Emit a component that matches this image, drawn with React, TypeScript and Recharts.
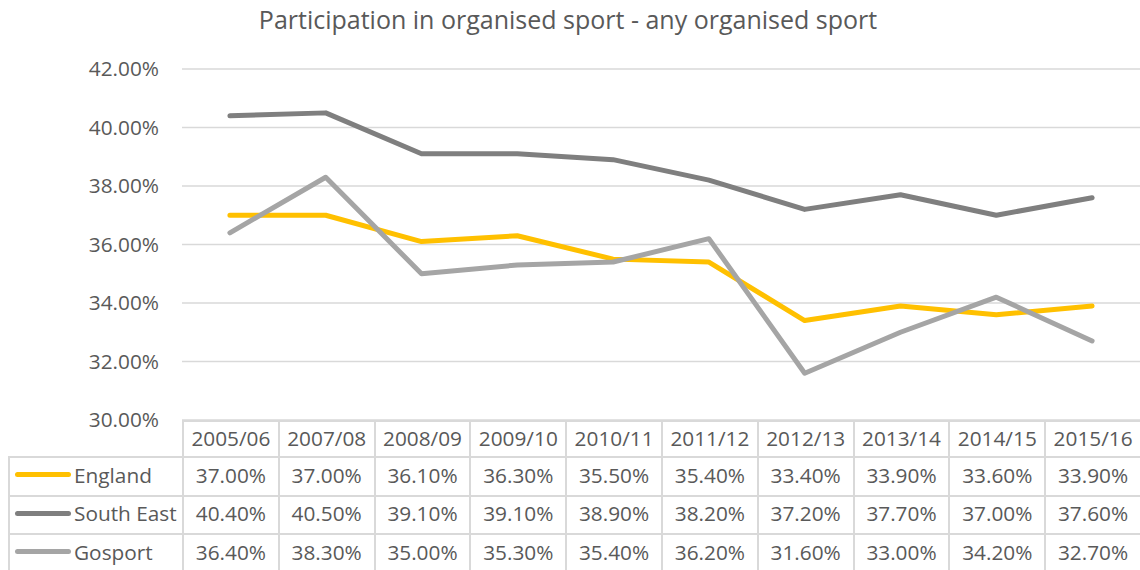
import { CartesianGrid, Line, LineChart, XAxis, YAxis } from "recharts";

const YEARS = ["2005/06", "2007/08", "2008/09", "2009/10", "2010/11", "2011/12", "2012/13", "2013/14", "2014/15", "2015/16"];
const ENGLAND = [37.0, 37.0, 36.1, 36.3, 35.5, 35.4, 33.4, 33.9, 33.6, 33.9];
const SOUTH_EAST = [40.4, 40.5, 39.1, 39.1, 38.9, 38.2, 37.2, 37.7, 37.0, 37.6];
const GOSPORT = [36.4, 38.3, 35.0, 35.3, 35.4, 36.2, 31.6, 33.0, 34.2, 32.7];
const Y_TICKS = [30, 32, 34, 36, 38, 40, 42];

const SERIES = [
  { key: "england", name: "England", values: ENGLAND, color: "#ffc000" },
  { key: "southEast", name: "South East", values: SOUTH_EAST, color: "#7f7f7f" },
  { key: "gosport", name: "Gosport", values: GOSPORT, color: "#a5a5a5" },
];

const W = 1140;
const H = 570;
const PLOT_LEFT = 182;
const PLOT_TOP = 69;
const PLOT_BOTTOM = 420;
const COL_W = (W - PLOT_LEFT) / YEARS.length;
const HEADER_H = 36;
const ROW_H = 38.5;
const GRID = "#d9d9d9";
const TEXT = "#595959";
const FONT = "'Open Sans', sans-serif";
const FS = 20.8;

const pct = (v: number) => `${v.toFixed(2)}%`;

export default function App() {
  const data = YEARS.map((year, i) => {
    const row: Record<string, string | number> = { year };
    SERIES.forEach((s) => (row[s.key] = s.values[i]));
    return row;
  });

  const cell = (left: number, top: number, width: number, height: number) => ({
    position: "absolute" as const,
    left,
    top,
    width,
    height,
    boxSizing: "border-box" as const,
    display: "flex",
    alignItems: "center",
    justifyContent: "center",
    paddingBottom: 3,
    borderLeft: `2px solid ${GRID}`,
    borderTop: `2px solid ${GRID}`,
    fontSize: FS,
  });

  return (
    <div style={{ position: "absolute", left: 0, top: 0, width: W, height: H, background: "#fff", fontFamily: FONT, color: TEXT, overflow: "hidden" }}>
      <div style={{ position: "absolute", left: 0, top: 2, width: 1136, textAlign: "center", fontSize: 25, lineHeight: "34px" }}>
        Participation in organised sport - any organised sport
      </div>

      <LineChart width={W} height={H} data={data} margin={{ top: PLOT_TOP, right: 0, bottom: H - PLOT_BOTTOM, left: 0 }}>
        <CartesianGrid horizontal vertical={false} stroke={GRID} strokeWidth={1.5} />
        <XAxis dataKey="year" hide padding={{ left: COL_W / 2, right: COL_W / 2 }} />
        <YAxis
          width={PLOT_LEFT}
          domain={[30, 42]}
          ticks={Y_TICKS}
          tickFormatter={pct}
          axisLine={false}
          tickLine={false}
          tickMargin={17}
          tick={{ fill: TEXT, fontSize: FS, fontFamily: FONT }}
        />
        {SERIES.map((s) => (
          <Line
            key={s.key}
            dataKey={s.key}
            name={s.name}
            stroke={s.color}
            strokeWidth={5}
            strokeLinecap="round"
            strokeLinejoin="round"
            dot={false}
            activeDot={false}
            isAnimationActive={false}
          />
        ))}
      </LineChart>

      {/* data table under the plot */}
      {YEARS.map((y, i) => (
        <div key={y} style={cell(PLOT_LEFT + i * COL_W, PLOT_BOTTOM, COL_W, HEADER_H)}>
          {y}
        </div>
      ))}
      {SERIES.map((s, r) => {
        const top = PLOT_BOTTOM + HEADER_H + r * ROW_H;
        return (
          <div key={s.key}>
            <div style={{ ...cell(8, top, PLOT_LEFT - 8, ROW_H), justifyContent: "flex-start" }}>
              <span style={{ display: "inline-block", width: 56, height: 5, borderRadius: 3, background: s.color, marginLeft: 5, marginRight: 3 }} />
              {s.name}
            </div>
            {s.values.map((v, i) => (
              <div key={i} style={cell(PLOT_LEFT + i * COL_W, top, COL_W, ROW_H)}>
                {pct(v)}
              </div>
            ))}
          </div>
        );
      })}
    </div>
  );
}
